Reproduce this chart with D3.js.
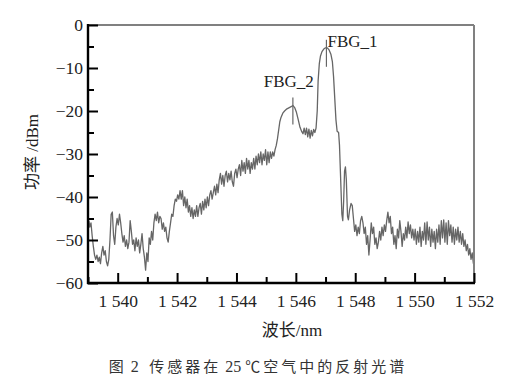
<!DOCTYPE html>
<html>
<head>
<meta charset="utf-8">
<script src="https://cdn.jsdelivr.net/npm/d3@7/dist/d3.min.js"></script>
<style>
  html, body { margin: 0; padding: 0; background: #fff; }
  svg { display: block; }
</style>
</head>
<body>
<svg id="chart" width="520" height="390"></svg>
<script>
// ---------- data (wavelength nm, power dBm) ----------
const noiseLeft = [
  [1539.03,-45.5],[1539.06,-47],[1539.10,-46],[1539.14,-49],[1539.18,-51.5],[1539.22,-53.5],
  [1539.26,-54.5],[1539.30,-53.5],[1539.34,-55],[1539.38,-54],[1539.42,-55.5],[1539.46,-53],
  [1539.50,-51.5],[1539.54,-53.5],[1539.58,-52.5],[1539.62,-55],[1539.66,-56],[1539.70,-54.5],
  [1539.74,-50],[1539.78,-44],[1539.82,-43.5],[1539.86,-49],[1539.90,-51],[1539.94,-47],
  [1539.98,-45],[1540.02,-46.5],[1540.06,-44],[1540.10,-46],[1540.14,-48.5],[1540.18,-50.5],
  [1540.22,-49],[1540.26,-51.5],[1540.30,-50],[1540.34,-52],[1540.38,-50.5],[1540.42,-45.5],
  [1540.46,-48],[1540.50,-51],[1540.54,-50],[1540.58,-52.5],[1540.62,-49.5],[1540.66,-51.5],
  [1540.70,-50],[1540.74,-53],[1540.78,-51],[1540.82,-48.5],[1540.86,-52],[1540.90,-54],
  [1540.94,-57],[1540.98,-53],[1541.02,-55],[1541.06,-49.5],[1541.10,-51],[1541.14,-48],
  [1541.18,-50],[1541.22,-46],[1541.26,-44],[1541.30,-45.5],[1541.34,-43.5],[1541.38,-46],
  [1541.42,-44.5],[1541.46,-45],[1541.50,-47.5],[1541.54,-46],[1541.58,-48],[1541.62,-47],
  [1541.66,-49.5],[1541.70,-50.5],[1541.74,-48],[1541.78,-46],[1541.82,-44],[1541.86,-44.5],
  [1541.90,-42],[1541.94,-40.5],[1541.98,-41],[1542.02,-39.5],[1542.06,-40.5]
];
const rampMid = [
  [1542.10,-38.5],[1542.14,-40.5],[1542.18,-38.5],[1542.22,-42],[1542.26,-40],[1542.30,-42.5],
  [1542.34,-40.5],[1542.38,-43.5],[1542.42,-42],[1542.46,-44.5],[1542.50,-42.5],[1542.54,-45],
  [1542.58,-43],[1542.62,-44.5],[1542.66,-42],[1542.70,-44.5],[1542.74,-42.5],[1542.78,-41.5],
  [1542.82,-44],[1542.86,-41],[1542.90,-43],[1542.94,-40.5],[1542.98,-42.5],[1543.02,-40],
  [1543.06,-42],[1543.10,-39.5],[1543.14,-38.5],[1543.18,-40.5],[1543.22,-39],[1543.26,-37.5],
  [1543.30,-39.5],[1543.34,-37],[1543.38,-39],[1543.42,-36],[1543.46,-34.5],[1543.50,-37],
  [1543.54,-35],[1543.58,-37.5],[1543.62,-35],[1543.66,-34],[1543.70,-36.5],[1543.74,-34.5],
  [1543.78,-36],[1543.82,-34],[1543.86,-36.5],[1543.90,-37.5],[1543.94,-34.5],[1543.98,-33.5],
  [1544.02,-35.5],[1544.06,-33.5],[1544.10,-32.5],[1544.14,-35],[1544.18,-31.5],[1544.22,-34],
  [1544.26,-32],[1544.30,-34.5],[1544.34,-31],[1544.38,-33.5],[1544.42,-31.5],[1544.46,-34.5],
  [1544.50,-32],[1544.54,-33.5],[1544.58,-31],[1544.62,-33.5],[1544.66,-30.5],[1544.70,-32.5],
  [1544.74,-30],[1544.78,-32],[1544.82,-29.5],[1544.86,-32.5],[1544.90,-30],[1544.94,-31.5],
  [1544.98,-29],[1545.02,-32.5],[1545.06,-29.5],[1545.10,-32],[1545.14,-29.5],[1545.18,-31]
];
const peakRegion = [
  [1545.22,-29.5],[1545.26,-30.5],[1545.30,-29],[1545.34,-28],[1545.38,-26.5],[1545.42,-24.5],
  [1545.46,-22.5],[1545.50,-21.5],[1545.56,-20.5],[1545.62,-20],[1545.70,-19.5],[1545.78,-19.2],
  [1545.84,-19],[1545.90,-18.7],[1545.96,-19.2],[1546.02,-20.3],[1546.08,-22],[1546.14,-23.8],
  [1546.20,-24.8],[1546.24,-25.3],[1546.28,-24],[1546.32,-25.5],[1546.36,-24],[1546.40,-26],
  [1546.44,-24.2],[1546.48,-26.3],[1546.52,-24.5],[1546.56,-25.8],[1546.60,-24.3],[1546.64,-25],
  [1546.68,-24],[1546.72,-20],[1546.75,-13],[1546.79,-9],[1546.83,-7.2],[1546.88,-6.2],
  [1546.94,-5.6],[1547.00,-5.3],[1547.06,-5.3],[1547.12,-5.8],[1547.18,-6.8],[1547.23,-8.5],
  [1547.27,-12],[1547.31,-17],[1547.35,-22],[1547.39,-24.7],[1547.44,-25],[1547.47,-28],
  [1547.51,-36],[1547.55,-44],[1547.58,-45.5],[1547.61,-41],[1547.64,-34],[1547.67,-33],
  [1547.70,-36],[1547.74,-44.5],[1547.77,-45.3],[1547.81,-43],[1547.86,-41.5],[1547.90,-42],
  [1547.94,-45]
];
const noiseRight = [
  [1547.98,-48],[1548.02,-46.5],[1548.06,-49],[1548.10,-47],[1548.14,-48.5],[1548.18,-45.5],
  [1548.22,-44.5],[1548.26,-46],[1548.30,-48.5],[1548.34,-47],[1548.38,-51],[1548.42,-49],
  [1548.46,-53.5],[1548.50,-50],[1548.54,-46],[1548.58,-48.5],[1548.62,-47],[1548.66,-51],
  [1548.70,-49.5],[1548.74,-52],[1548.78,-50.5],[1548.82,-48],[1548.86,-50],[1548.90,-47],
  [1548.94,-49],[1548.98,-46.5],[1549.02,-48],[1549.06,-45.5],[1549.10,-43.5],[1549.14,-46],
  [1549.18,-44.5],[1549.22,-48.5],[1549.26,-47],[1549.30,-51],[1549.34,-49],[1549.38,-52],
  [1549.42,-47.5],[1549.46,-49.5],[1549.50,-45.5],[1549.54,-48],[1549.58,-51.5],[1549.62,-48.5],
  [1549.66,-50],[1549.70,-47],[1549.74,-49.5],[1549.78,-45.8],[1549.82,-48.5],[1549.86,-46.5],
  [1549.90,-49.5],[1549.94,-47.5],[1549.98,-50],[1550.02,-47.5],[1550.06,-51],[1550.10,-48],
  [1550.14,-50.5],[1550.18,-47],[1550.22,-51.5],[1550.26,-48],[1550.30,-50],[1550.34,-46],
  [1550.38,-51],[1550.42,-45.8],[1550.46,-50],[1550.50,-47],[1550.54,-51.5],[1550.58,-47.5],
  [1550.62,-50.5],[1550.66,-48],[1550.70,-52],[1550.74,-47.5],[1550.78,-50.5],[1550.82,-46.5],
  [1550.86,-51],[1550.90,-45.5],[1550.94,-49.5],[1550.98,-45.3],[1551.02,-50.5],[1551.06,-46],
  [1551.10,-51],[1551.14,-45.5],[1551.18,-49],[1551.22,-46.5],[1551.26,-50.5],[1551.30,-47],
  [1551.34,-51],[1551.38,-47.5],[1551.42,-50],[1551.46,-47],[1551.50,-50.5],[1551.54,-48],
  [1551.58,-51],[1551.62,-48.5],[1551.66,-51.5],[1551.70,-50],[1551.74,-52.5],[1551.78,-51],
  [1551.82,-53.5],[1551.86,-52],[1551.90,-54.5],[1551.94,-53],[1551.98,-55.5]
];
const peakLabels = [
  { name: "FBG_1", nm: 1547.03, dB: -5.3 },
  { name: "FBG_2", nm: 1545.90, dB: -18.7 }
];
const xMajorTicks = [1540, 1542, 1544, 1546, 1548, 1550, 1552];
const xMinorTicks = [1539, 1541, 1543, 1545, 1547, 1549, 1551];
const yMajorTicks = [0, -10, -20, -30, -40, -50, -60];
const yMinorTicks = [-5, -15, -25, -35, -45, -55];
const xDomain = [1539, 1552];
const yDomain = [-60, 0];
const xTitleParts = ["波长", "/nm"];
const yTitleParts = ["功率", " /dBm"];
const captionParts = ["图", " 2 ", " 传感器在", " 25 ", "℃空气中的反射光谱"];

// ---------- drawing ----------
const svg = d3.select("#chart");
const L = 88, R = 474, T = 25, B = 283;
const x = d3.scaleLinear().domain(xDomain).range([L, R]);
const y = d3.scaleLinear().domain(yDomain).range([B, T]);
const serif = "'Liberation Serif', 'DejaVu Serif', serif";
const cjk = "'Noto Sans CJK SC', 'Noto Sans', sans-serif";
const txtColor = "#222";

svg.append("rect").attr("width", 520).attr("height", 390).attr("fill", "#fff");

const series = noiseLeft.concat(rampMid, peakRegion, noiseRight);
const line = d3.line().x(d => x(d[0])).y(d => y(d[1]));
svg.append("path")
  .datum(series)
  .attr("d", line)
  .attr("fill", "none")
  .attr("stroke", "#666")
  .attr("stroke-width", 1.3)
  .attr("stroke-linejoin", "round");

// frame: top/right gray
svg.append("line").attr("x1", L).attr("x2", R).attr("y1", T).attr("y2", T)
  .attr("stroke", "#808080").attr("stroke-width", 2);
svg.append("line").attr("x1", R).attr("x2", R).attr("y1", T).attr("y2", B)
  .attr("stroke", "#808080").attr("stroke-width", 2);

const thou = d3.formatLocale({ decimal: ".", thousands: "\u00a0", grouping: [3], minus: "\u2212" });
const fmtX = thou.format(",");
const fmtY = thou.format("d");

// x axis
const gx = svg.append("g").attr("transform", `translate(0,${B})`);
gx.call(d3.axisBottom(x).tickValues(xMajorTicks).tickSize(-10).tickPadding(12).tickFormat(fmtX));
gx.append("g").call(d3.axisBottom(x).tickValues(xMinorTicks).tickSize(-6).tickFormat(""));
// y axis
const gy = svg.append("g").attr("transform", `translate(${L},0)`);
gy.call(d3.axisLeft(y).tickValues(yMajorTicks).tickSize(-10).tickPadding(5).tickFormat(fmtY));
gy.append("g").call(d3.axisLeft(y).tickValues(yMinorTicks).tickSize(-6).tickFormat(""));

svg.selectAll(".domain").remove();
svg.selectAll("g").attr("font-family", null).attr("font-size", null);
svg.selectAll(".tick line").attr("stroke", "#000").attr("stroke-width", 2);
svg.selectAll(".tick text")
  .style("font-family", serif).style("font-size", "17.5px").attr("fill", txtColor);

// axis lines left/bottom black
svg.append("line").attr("x1", L).attr("x2", L).attr("y1", T - 1).attr("y2", B + 1)
  .attr("stroke", "#000").attr("stroke-width", 2.4);
svg.append("line").attr("x1", L - 1).attr("x2", R + 1).attr("y1", B).attr("y2", B)
  .attr("stroke", "#000").attr("stroke-width", 2.4);

// peak annotations
peakLabels.forEach(p => {
  const px = x(p.nm), py = y(p.dB);
  svg.append("line").attr("x1", px).attr("x2", px)
    .attr("y1", py - 8).attr("y2", py + 19)
    .attr("stroke", "#666").attr("stroke-width", 1.2);
  const t = svg.append("text")
    .style("font-family", serif).style("font-size", "17px").attr("fill", txtColor)
    .text(p.name);
  if (p.name === "FBG_1") {
    t.attr("x", px + 1).attr("y", py - 1);
  } else {
    t.attr("x", px + 21).attr("y", py - 18).attr("text-anchor", "end");
  }
});

// titles (CJK in Noto Sans CJK, Latin in serif)
function mixed(sel, parts, fonts) {
  parts.forEach((s, i) => {
    sel.append("tspan").style("font-family", fonts[i]).text(s);
  });
}
const xt = svg.append("text").attr("x", 292).attr("y", 336).attr("text-anchor", "middle")
  .style("font-size", "17px").attr("fill", txtColor).style("white-space", "pre");
mixed(xt, xTitleParts, [cjk, serif]);

const yt = svg.append("text").attr("transform", "translate(38,152) rotate(-90)")
  .attr("text-anchor", "middle").style("font-size", "17px").attr("fill", txtColor)
  .style("white-space", "pre");
mixed(yt, yTitleParts, [cjk, serif]);

const cap = svg.append("text").attr("x", 258).attr("y", 372).attr("text-anchor", "middle")
  .style("font-size", "15px").attr("fill", "#333").style("white-space", "pre");
captionParts.forEach((s, i) => {
  const ts = cap.append("tspan").text(s);
  if (i === 1 || i === 3) ts.style("font-family", serif).style("font-size", "16px");
  else ts.style("font-family", cjk).attr("letter-spacing", 3);
});
</script>
</body>
</html>
